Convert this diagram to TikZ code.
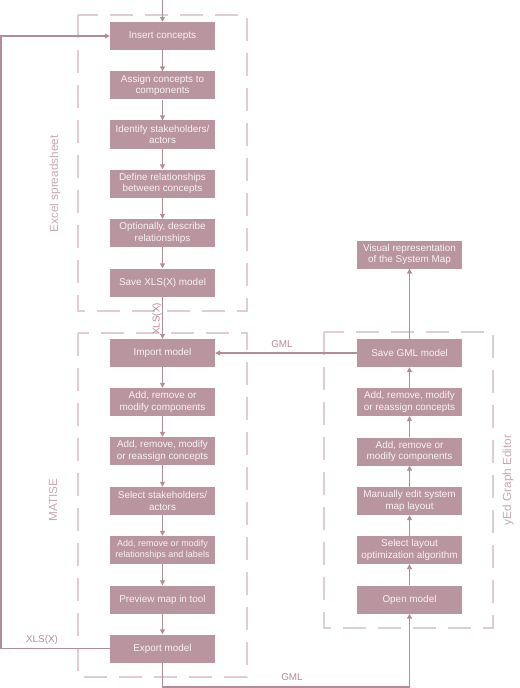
\documentclass[tikz,border=0pt]{standalone}
\usepackage{fontspec}
\setmainfont{Liberation Sans}
\usetikzlibrary{arrows.meta}
\definecolor{boxfill}{RGB}{185,149,159}
\definecolor{linec}{RGB}{180,140,152}
\definecolor{dashc}{RGB}{224,204,211}
\definecolor{labelc}{RGB}{200,168,178}
\definecolor{boxtext}{RGB}{248,242,244}
\tikzset{
  stepbox/.style={rectangle, fill=boxfill, minimum width=105bp, minimum height=28bp, inner sep=0pt,
    align=center, text=boxtext, font=\fontsize{9.9bp}{11.3bp}\selectfont},
  smallbox/.style={stepbox, font=\fontsize{9bp}{11.3bp}\selectfont},
  conn/.style={draw=linec, line width=1.1bp, -{Triangle[length=5bp,width=5bp]}},
  plain/.style={draw=linec, line width=1.1bp},
  group/.style={draw=dashc, line width=1.5bp, dash pattern=on 23bp off 12bp},
  grouplabel/.style={text=labelc, font=\fontsize{11.8bp}{14bp}\selectfont, rotate=90},
  flowlabel/.style={text=linec, font=\fontsize{9.9bp}{12bp}\selectfont, inner sep=0pt}
}
\begin{document}
\begin{tikzpicture}[x=1bp,y=-1bp]
\useasboundingbox (0,0) rectangle (520,688);
% group frames
\draw[group] (78,15) rectangle (247,311);
\draw[group] (78,333) rectangle (247,677);
\draw[group] (324,332) rectangle (493,628);
\node[grouplabel] (lexcel) at (55,184) {Excel spreadsheet};
\node[grouplabel] (lmatise) at (53,500) {MATISE};
\node[grouplabel] (lyed) at (508,480) {yEd Graph Editor};
% left column
\node[stepbox] (insert) at (162.5,36) {Insert concepts};
\node[stepbox] (assign) at (162.5,85.5) {Assign concepts to\\components};
\node[stepbox] (identify) at (162.5,134.5) {Identify stakeholders/\\actors};
\node[stepbox] (define) at (162.5,183.5) {Define relationships\\between concepts};
\node[stepbox] (optional) at (162.5,233) {Optionally, describe\\relationships};
\node[stepbox] (savexls) at (162.5,282.5) {Save XLS(X) model};
\node[stepbox] (import) at (162.5,353) {Import model};
\node[stepbox] (mcomp) at (162.5,402) {Add, remove or\\modify components};
\node[stepbox] (mconc) at (162.5,451) {Add, remove, modify\\or reassign concepts};
\node[stepbox] (mstake) at (162.5,501) {Select stakeholders/\\actors};
\node[smallbox] (mrel) at (162.5,550) {Add, remove or modify\\relationships and labels};
\node[stepbox] (preview) at (162.5,599.5) {Preview map in tool};
\node[stepbox] (export) at (162.5,648.5) {Export model};
% right column
\node[stepbox] (visual) at (409.5,254.5) {Visual representation\\of the System Map};
\node[stepbox] (savegml) at (409.5,353) {Save GML model};
\node[stepbox] (yconc) at (409.5,402) {Add, remove, modify\\or reassign concepts};
\node[stepbox] (ycomp) at (409.5,451.5) {Add, remove or\\modify components};
\node[stepbox] (manual) at (409.5,501) {Manually edit system\\map layout};
\node[stepbox] (layout) at (409.5,550) {Select layout\\optimization algorithm};
\node[stepbox] (open) at (409.5,599.5) {Open model};
% connectors
\coordinate (top) at (162.5,0);
\draw[conn] (top) -- (insert);
\draw[conn] (insert) -- (assign);
\draw[conn] (assign) -- (identify);
\draw[conn] (identify) -- (define);
\draw[conn] (define) -- (optional);
\draw[conn] (optional) -- (savexls);
\draw[conn] (savexls) -- (import);
\draw[conn] (import) -- (mcomp);
\draw[conn] (mcomp) -- (mconc);
\draw[conn] (mconc) -- (mstake);
\draw[conn] (mstake) -- (mrel);
\draw[conn] (mrel) -- (preview);
\draw[conn] (preview) -- (export);
\draw[conn] (open) -- (layout);
\draw[conn] (layout) -- (manual);
\draw[conn] (manual) -- (ycomp);
\draw[conn] (ycomp) -- (yconc);
\draw[conn] (yconc) -- (savegml);
\draw[conn] (savegml) -- (visual);
\draw[conn] (savegml) -- (import);
\coordinate (loopbl) at (1,648.5);
\coordinate (looptl) at (1,36);
\draw[conn] (export.west) -- (loopbl) -- (looptl) -- (insert.west);
\coordinate (botl) at (162.5,687);
\coordinate (botr) at (409.5,687);
\draw[conn] (export.south) -- (botl) -- (botr) -- (open.south);
% flow labels
\node[flowlabel, rotate=90] (lxls1) at (157,319) {XLS(X)};
\node[flowlabel] (lxls2) at (42,640) {XLS(X)};
\node[flowlabel] (lgml1) at (282,344) {GML};
\node[flowlabel] (lgml2) at (292,677) {GML};
\end{tikzpicture}
\end{document}
